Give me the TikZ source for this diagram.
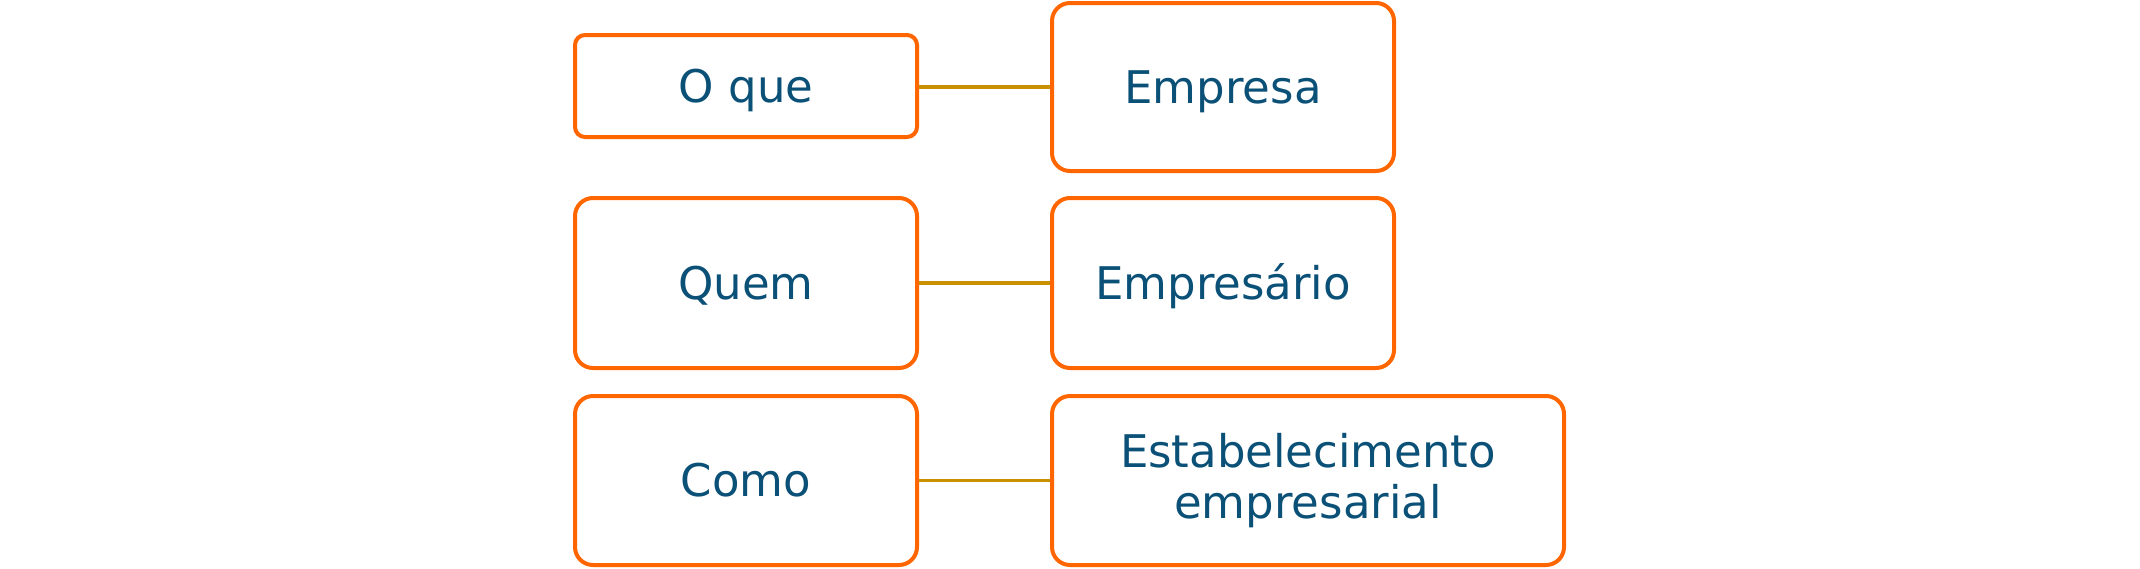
\documentclass[tikz,border=0pt]{standalone}
\usepackage{fontspec}
\setmainfont{DejaVu Sans}
\definecolor{boxorange}{HTML}{FF6600}
\definecolor{linkgold}{HTML}{C99100}
\definecolor{textblue}{HTML}{0B5077}
\begin{document}
\begin{tikzpicture}[x=0.5pt,y=-0.5pt,
  card/.style={draw=boxorange, line width=2pt, rounded corners=9pt, inner sep=0pt,
    minimum width=171pt, text=textblue, font=\fontsize{22.5}{25.5}\selectfont,
    text height=16.4pt, text depth=0pt, align=center},
  link/.style={draw=linkgold, line width=1.75pt}]
\useasboundingbox (0,0) rectangle (2140,568);
\node[card, rounded corners=5pt, minimum height=51pt] (oque) at (746,86) {O que};
\node[card, minimum height=84pt] (empresa) at (1223,87) {Empresa};
\node[card, minimum height=85pt] (quem) at (746,283) {Quem};
\node[card, minimum height=85pt] (empresario) at (1223,283) {Empresário};
\node[card, minimum height=84.5pt] (como) at (746,480.5) {Como};
\node[card, minimum height=84.5pt, minimum width=256pt, text height=, text depth=] (estab) at (1308,480.5) {Estabelecimento\\empresarial};
\draw[link] (oque.east |- empresa.west) -- (empresa.west);
\draw[link] (quem.east) -- (empresario.west);
\draw[link] (como.east) -- (estab.west);
\end{tikzpicture}
\end{document}
